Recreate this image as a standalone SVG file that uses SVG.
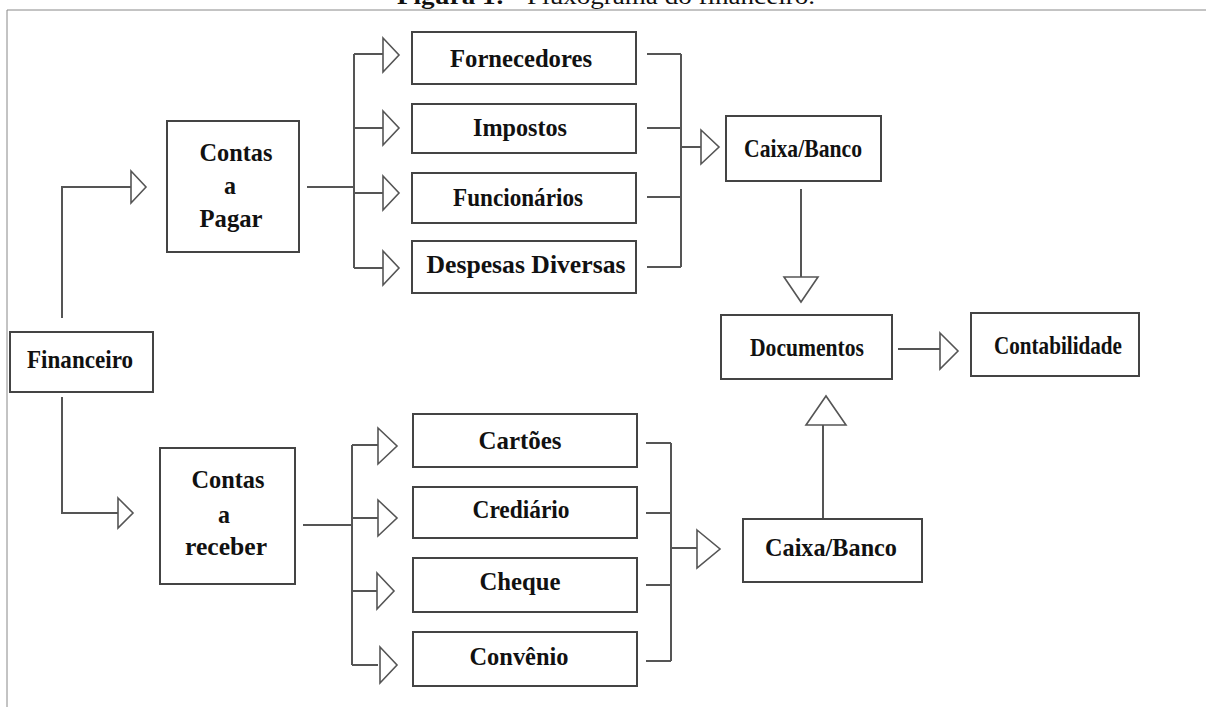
<svg xmlns="http://www.w3.org/2000/svg" width="1206" height="707" viewBox="0 0 1206 707">
<style>
.box{fill:#fff;stroke:#444;stroke-width:2}
.lbl{font-family:"Liberation Serif","Times New Roman",serif;font-weight:bold;font-size:26px;fill:#111;text-anchor:middle}
.ln{fill:none;stroke:#555;stroke-width:2}
.ah{fill:#fff;stroke:#555;stroke-width:1.6;stroke-linejoin:miter}
.frame{fill:none;stroke:#888;stroke-width:1}
.title{font-family:"Liberation Serif","Times New Roman",serif;font-size:24px;fill:#111}
</style>
<rect width="1206" height="707" fill="#fff"/>
<text class="title" x="397" y="4" textLength="418" lengthAdjust="spacingAndGlyphs"><tspan font-weight="bold">Figura 1:</tspan> - Fluxograma do financeiro.</text>
<path class="frame" d="M7,707 V10 H1206"/>

<g id="connectors">
  <path class="ln" d="M62,318 V187 H131"/>
  <polygon class="ah" points="131,171 146,187 131,203"/>
  <path class="ln" d="M62,397 V513 H118"/>
  <polygon class="ah" points="118,498 133,513 118,528"/>
  <path class="ln" d="M307,187 H354 M354,54 V268 M354,54 H383 M354,128 H383 M354,193 H383 M354,268 H383"/>
  <polygon class="ah" points="383,38 399,55 383,72"/>
  <polygon class="ah" points="383,111 399,128 383,145"/>
  <polygon class="ah" points="383,176 399,193 383,210"/>
  <polygon class="ah" points="383,251 399,268 383,285"/>
  <path class="ln" d="M647,54 H681 M647,128 H681 M647,197 H681 M647,267 H681 M681,54 V267 M681,147 H701"/>
  <polygon class="ah" points="701,130 719,147 701,164"/>
  <path class="ln" d="M801,189 V277"/>
  <polygon class="ah" points="784,277 818,277 801,302"/>
  <path class="ln" d="M898,349 H940"/>
  <polygon class="ah" points="940,333 958,351 940,369"/>
  <path class="ln" d="M303,525 H352 M352,445 V665 M352,445 H378 M352,518 H378 M352,591 H378 M352,665 H378"/>
  <polygon class="ah" points="378,428 397,446 378,464"/>
  <polygon class="ah" points="378,500 397,518 378,536"/>
  <polygon class="ah" points="377,573 394,591 377,609"/>
  <polygon class="ah" points="380,647 397,665 380,683"/>
  <path class="ln" d="M646,443 H671 M646,513 H671 M646,585 H671 M646,661 H671 M671,443 V661 M671,548 H697"/>
  <polygon class="ah" points="697,530 720,549 697,568"/>
  <path class="ln" d="M823,519 V425"/>
  <polygon class="ah" points="806,425 846,425 826,396"/>
</g>

<g id="financeiro">
  <rect class="box" x="10" y="332" width="143" height="60"/>
  <text class="lbl" x="80" y="368" textLength="106" lengthAdjust="spacingAndGlyphs">Financeiro</text>
</g>
<g id="contas-pagar">
  <rect class="box" x="167" y="121" width="132" height="131"/>
  <text class="lbl" x="236" y="161" textLength="73" lengthAdjust="spacingAndGlyphs">Contas</text>
  <text class="lbl" x="230" y="194" textLength="12" lengthAdjust="spacingAndGlyphs">a</text>
  <text class="lbl" x="231" y="227" textLength="63" lengthAdjust="spacingAndGlyphs">Pagar</text>
</g>
<g id="contas-receber">
  <rect class="box" x="160" y="448" width="135" height="136"/>
  <text class="lbl" x="228" y="488" textLength="73" lengthAdjust="spacingAndGlyphs">Contas</text>
  <text class="lbl" x="224" y="523" textLength="12" lengthAdjust="spacingAndGlyphs">a</text>
  <text class="lbl" x="226" y="555" textLength="82" lengthAdjust="spacingAndGlyphs">receber</text>
</g>
<g id="fornecedores">
  <rect class="box" x="412" y="32" width="224" height="52"/>
  <text class="lbl" x="521" y="67" textLength="142" lengthAdjust="spacingAndGlyphs">Fornecedores</text>
</g>
<g id="impostos">
  <rect class="box" x="412" y="104" width="224" height="49"/>
  <text class="lbl" x="520" y="136" textLength="94" lengthAdjust="spacingAndGlyphs">Impostos</text>
</g>
<g id="funcionarios">
  <rect class="box" x="412" y="173" width="224" height="50"/>
  <text class="lbl" x="518" y="206" textLength="130" lengthAdjust="spacingAndGlyphs">Funcionários</text>
</g>
<g id="despesas">
  <rect class="box" x="412" y="241" width="224" height="52"/>
  <text class="lbl" x="526" y="273" textLength="199" lengthAdjust="spacingAndGlyphs">Despesas Diversas</text>
</g>
<g id="cartoes">
  <rect class="box" x="413" y="414" width="224" height="53"/>
  <text class="lbl" x="520" y="449" textLength="83" lengthAdjust="spacingAndGlyphs">Cartões</text>
</g>
<g id="crediario">
  <rect class="box" x="413" y="487" width="224" height="51"/>
  <text class="lbl" x="521" y="518" textLength="97" lengthAdjust="spacingAndGlyphs">Crediário</text>
</g>
<g id="cheque">
  <rect class="box" x="413" y="558" width="224" height="54"/>
  <text class="lbl" x="520" y="590" textLength="81" lengthAdjust="spacingAndGlyphs">Cheque</text>
</g>
<g id="convenio">
  <rect class="box" x="413" y="632" width="224" height="54"/>
  <text class="lbl" x="519" y="665" textLength="99" lengthAdjust="spacingAndGlyphs">Convênio</text>
</g>
<g id="caixa-banco-top">
  <rect class="box" x="726" y="116" width="155" height="65"/>
  <text class="lbl" x="803" y="157" textLength="118" lengthAdjust="spacingAndGlyphs">Caixa/Banco</text>
</g>
<g id="documentos">
  <rect class="box" x="721" y="315" width="171" height="64"/>
  <text class="lbl" x="807" y="356" textLength="114" lengthAdjust="spacingAndGlyphs">Documentos</text>
</g>
<g id="contabilidade">
  <rect class="box" x="971" y="313" width="168" height="63"/>
  <text class="lbl" x="1058" y="354" textLength="128" lengthAdjust="spacingAndGlyphs">Contabilidade</text>
</g>
<g id="caixa-banco-bottom">
  <rect class="box" x="743" y="519" width="179" height="63"/>
  <text class="lbl" x="831" y="556" textLength="132" lengthAdjust="spacingAndGlyphs">Caixa/Banco</text>
</g>
</svg>
